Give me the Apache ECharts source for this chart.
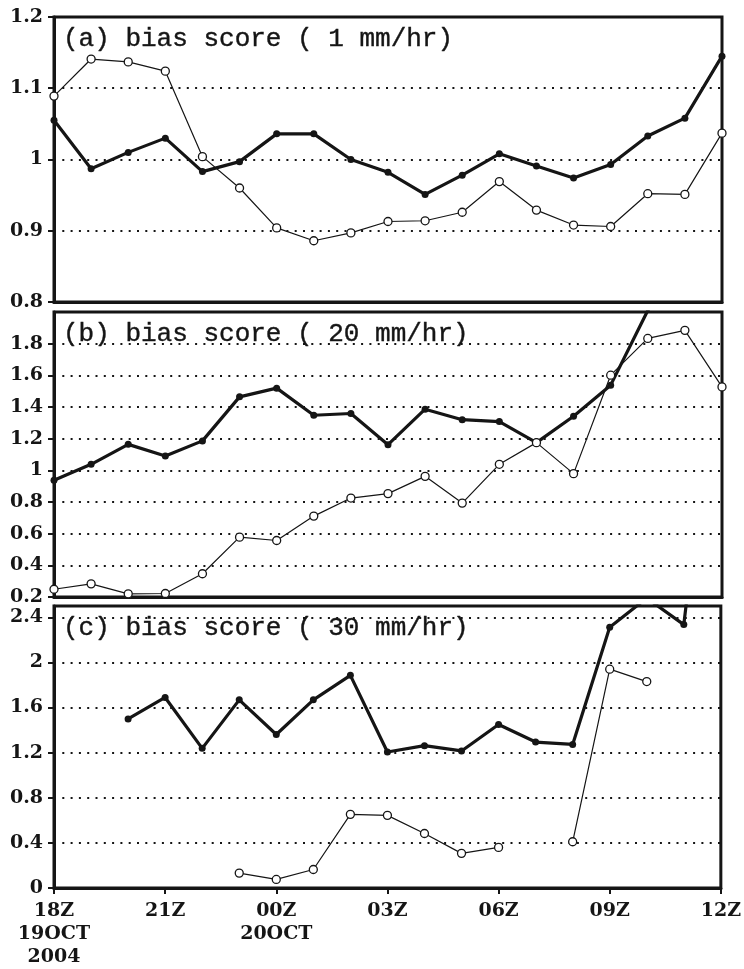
<!DOCTYPE html>
<html>
<head>
<meta charset="utf-8">
<script src="https://cdn.jsdelivr.net/npm/echarts@6/dist/echarts.min.js"></script>
<style>
html,body{margin:0;padding:0;background:#fff;}
#chart{width:744px;height:969px;}
</style>
</head>
<body>
<div id="chart"></div>
<script>
// Hours (x categories)
var categories = ['18Z','19Z','20Z','21Z','22Z','23Z','00Z','01Z','02Z','03Z','04Z','05Z','06Z','07Z','08Z','09Z','10Z','11Z','12Z'];
// Tick labels shown on the bottom axis
var tickLabels = {'18Z':'18Z\n19OCT\n2004','21Z':'21Z','00Z':'00Z\n20OCT','03Z':'03Z','06Z':'06Z','09Z':'09Z','12Z':'12Z'};
// Panel titles
var titles = ['(a) bias score ( 1 mm/hr)', '(b) bias score ( 20 mm/hr)', '(c) bias score ( 30 mm/hr)'];

// Panel (a) 1 mm/hr
var aThick = [1.055, 0.987, 1.010, 1.030, 0.983, 0.997, 1.036, 1.036, 1.000, 0.982, 0.951, 0.978, 1.008, 0.991, 0.974, 0.993, 1.033, 1.058, 1.145];
var aThin  = [1.089, 1.141, 1.137, 1.124, 1.004, 0.960, 0.904, 0.886, 0.897, 0.913, 0.914, 0.926, 0.969, 0.929, 0.908, 0.906, 0.952, 0.951, 1.037];
// Panel (b) 20 mm/hr
var bThick = [0.937, 1.038, 1.164, 1.091, 1.186, 1.464, 1.519, 1.348, 1.359, 1.162, 1.386, 1.320, 1.308, 1.175, 1.342, 1.538, 2.01, 2.3, 2.6];
var bThin  = [0.249, 0.283, 0.220, 0.222, 0.347, 0.578, 0.557, 0.711, 0.825, 0.853, 0.962, 0.793, 1.038, 1.175, 0.979, 1.601, 1.833, 1.884, 1.527];
// Panel (c) 30 mm/hr
var cThick = [null, null, 1.499, 1.689, 1.238, 1.668, 1.361, 1.668, 1.885, 1.206, 1.262, 1.215, 1.449, 1.294, 1.273, 2.312, 2.57, 2.335, 5.1];
var cThin  = [null, null, null, null, null, 0.132, 0.076, 0.164, 0.653, 0.644, 0.483, 0.307, 0.360, null, 0.410, 1.94, 1.83, null, null];

// Y axis ranges
var yRanges = [
  {min: 0.8, max: 1.2, interval: 0.1, showMax: true},
  {min: 0.2, max: 2.0, interval: 0.2, showMax: false},
  {min: 0,   max: 2.5, interval: 0.4, showMax: false}
];

var INK = '#151515';
var labelFont = {fontFamily: 'DejaVu Serif', fontWeight: 'bold', fontSize: 19, color: INK};
var panelTops = [17, 312, 606];
var panelHeights = [285, 285, 286];

var grids = [], xAxes = [], yAxes = [], series = [], graphics = [];
var thickSets = [aThick, bThick, cThick];
var thinSets = [aThin, bThin, cThin];

for (var p = 0; p < 3; p++) {
  grids.push({left: 54, right: 22, top: panelTops[p], height: panelHeights[p],
    show: true, borderColor: INK, borderWidth: 3, backgroundColor: 'transparent'});
  var last = (p === 2);
  xAxes.push({
    type: 'category', gridIndex: p, data: categories, boundaryGap: false,
    axisLine: {show: true, lineStyle: {color: INK, width: 3}},
    axisTick: {show: last, interval: 2, length: 6, lineStyle: {color: INK, width: 2}},
    axisLabel: {show: last, interval: 2, margin: 12, lineHeight: 23,
      fontFamily: labelFont.fontFamily, fontWeight: labelFont.fontWeight, fontSize: labelFont.fontSize, color: INK,
      formatter: function (v) { return tickLabels[v] || v; }},
    splitLine: {show: false}
  });
  var r = yRanges[p];
  yAxes.push({
    type: 'value', gridIndex: p, min: r.min, max: r.max, interval: r.interval,
    axisLine: {show: true, lineStyle: {color: INK, width: 3}},
    axisTick: {show: true, length: 6, lineStyle: {color: INK, width: 2}},
    axisLabel: {show: true, margin: 11, showMaxLabel: r.showMax, showMinLabel: true,
      fontFamily: labelFont.fontFamily, fontWeight: labelFont.fontWeight, fontSize: labelFont.fontSize, color: INK},
    splitLine: {show: true, lineStyle: {color: INK, width: 2, type: [2, 6.3]}}
  });
  series.push({
    type: 'line', xAxisIndex: p, yAxisIndex: p, data: thickSets[p], clip: true,
    connectNulls: false, symbol: 'circle', symbolSize: 7, showSymbol: true,
    lineStyle: {color: INK, width: 3.2}, itemStyle: {color: INK}, z: 3
  });
  series.push({
    type: 'line', xAxisIndex: p, yAxisIndex: p, data: thinSets[p], clip: true,
    connectNulls: false, symbol: 'circle', symbolSize: 8, showSymbol: true,
    lineStyle: {color: INK, width: 1.2}, itemStyle: {color: '#fff', borderColor: INK, borderWidth: 1.3}, z: 4
  });
  graphics.push({type: 'text', x: 63, y: panelTops[p] + 22, z: 10,
    style: {text: titles[p], font: '26px "Liberation Mono"', fill: INK, verticalAlign: 'middle',
      stroke: INK, lineWidth: 0.4}});
}
// white masks clipping the lowest labels of the upper panels
graphics.push({type: 'rect', shape: {x: 0, y: 310, width: 51, height: 3}, style: {fill: '#fff'}, z: 20});
graphics.push({type: 'rect', shape: {x: 0, y: 602, width: 51, height: 4}, style: {fill: '#fff'}, z: 20});

var chart = echarts.init(document.getElementById('chart'), null, {renderer: 'canvas'});
chart.setOption({
  animation: false,
  backgroundColor: '#fff',
  grid: grids, xAxis: xAxes, yAxis: yAxes, series: series, graphic: graphics
});
</script>
</body>
</html>
